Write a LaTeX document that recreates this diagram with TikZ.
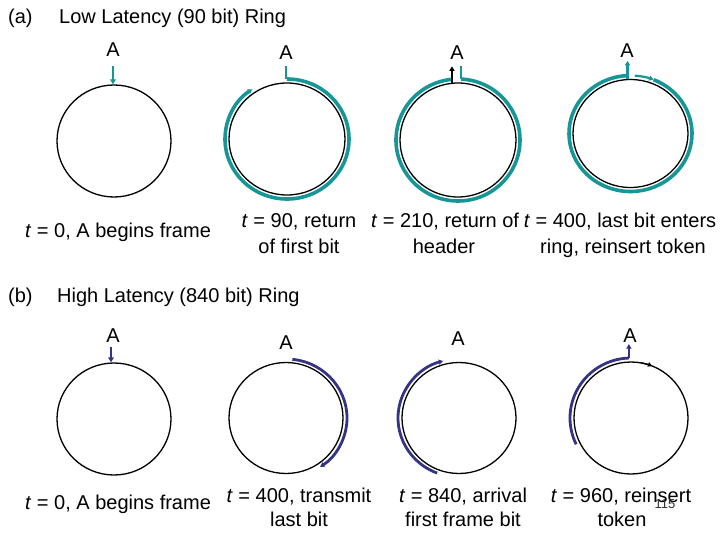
\documentclass[tikz,border=0pt]{standalone}
\usepackage{fontspec}
\setmainfont{Liberation Sans}
\usetikzlibrary{arrows.meta,shapes.geometric}
\definecolor{ringteal}{RGB}{22,150,150}
\definecolor{ringnavy}{RGB}{52,52,132}
\tikzset{
  ring/.style={ellipse,draw=black,line width=1.3pt,inner sep=0pt},
  lbl/.style={anchor=base,inner sep=0pt,font=\fontsize{20}{24}\selectfont},
  hdr/.style={anchor=base west,inner sep=0pt,font=\fontsize{20}{24}\selectfont},
  tealarc/.style={draw=ringteal,line width=3.6pt},
  tealthin/.style={draw=ringteal,line width=2.2pt},
  navyarc/.style={draw=ringnavy,line width=2.8pt},
  tip/.style={-{Triangle[length=5pt,width=5.5pt]}},
  smalltip/.style={-{Triangle[length=4.5pt,width=5pt]}}
}
\begin{document}
\begin{tikzpicture}[x=1pt,y=1pt]
\useasboundingbox (0,0) rectangle (720,-540);

% headers
\node[hdr] (ha) at (8,-24) {(a)};
\node[hdr] (hat) at (59,-24) {Low Latency (90 bit) Ring};
\node[hdr] (hb) at (8,-302) {(b)};
\node[hdr] (hbt) at (57,-302) {High Latency (840 bit) Ring};

% rings
\node[ring,minimum width=114pt,minimum height=112pt] (r1) at (114,-141) {};
\node[ring,minimum width=116pt,minimum height=112pt] (r2) at (287,-139) {};
\node[ring,minimum width=116pt,minimum height=114pt] (r3) at (458,-140) {};
\node[ring,minimum width=115pt,minimum height=108pt] (r4) at (630.5,-133.5) {};
\node[ring,minimum width=114pt,minimum height=112pt] (r5) at (114,-419) {};
\node[ring,minimum width=114pt,minimum height=111pt] (r6) at (286,-418) {};
\node[ring,minimum width=114pt,minimum height=111pt] (r7) at (459,-418) {};
\node[ring,minimum width=114pt,minimum height=112pt] (r8) at (631,-418) {};

% A labels
\node[lbl] (a1) at (113,-57) {A};
\node[lbl] (a2) at (286,-60) {A};
\node[lbl] (a3) at (457,-60) {A};
\node[lbl] (a4) at (627,-58) {A};
\node[lbl] (a5) at (113,-342) {A};
\node[lbl] (a6) at (286,-349) {A};
\node[lbl] (a7) at (458,-345) {A};
\node[lbl] (a8) at (630,-342) {A};

% ring 1
\draw[tealthin,tip] ([shift={(-1,18)}]r1.north) -- ([xshift=-1pt]r1.north);

% ring 2
\coordinate (s2) at ([shift={(90:62 and 60)}]r2.center);
\draw[tealthin] ([shift={(-1,13)}]s2) -- ([xshift=-1pt]s2);
\draw[tealarc,smalltip] (s2) arc[start angle=90,end angle=-236,x radius=62,y radius=60];

% ring 3
\coordinate (s3) at ([shift={(87:62 and 61)}]r3.center);
\draw[tealthin] ([yshift=13pt]s3) -- (s3);
\draw[tealarc] (s3) arc[start angle=87,end angle=-264,x radius=62,y radius=61];
\draw[line width=1.3pt,smalltip] ([shift={(96:58 and 57)}]r3.center) -- ++(0,17);

% ring 4
\coordinate (s4) at ([shift={(86:61.5 and 58)}]r4.center);
\coordinate (e4) at ([shift={(68:61.5 and 58)}]r4.center);
\draw[tealthin,smalltip] ([shift={(-3,0)}]r4.north) -- ++(0,18);
\draw[tealthin,smalltip] (s4) arc[start angle=86,end angle=68,x radius=61.5,y radius=58];
\draw[tealarc] (e4) arc[start angle=68,end angle=-268,x radius=61.5,y radius=58];

% ring 5
\draw[navyarc,line width=2pt,tip] ([shift={(-3,15)}]r5.north) -- ([xshift=-3pt]r5.north);

% ring 6
\coordinate (s6) at ([shift={(84:61 and 59)}]r6.center);
\draw[navyarc,smalltip] (s6) arc[start angle=84,end angle=-56,x radius=61,y radius=59];

% ring 7
\coordinate (s7) at ([shift={(-111:61 and 59)}]r7.center);
\draw[navyarc,smalltip] (s7) arc[start angle=-111,end angle=-255,x radius=61,y radius=59];

% ring 8
\coordinate (s8) at ([shift={(206:61 and 60)}]r8.center);
\draw[navyarc] (s8) arc[start angle=206,end angle=92,x radius=61,y radius=60] coordinate (t8);
\draw[navyarc,line width=2pt,smalltip] (t8) -- ++(0,14);
\coordinate (k8) at ([shift={(80:57 and 56)}]r8.center);
\draw[line width=1.3pt,-{Triangle[length=4.5pt,width=4.5pt]}] (k8) arc[start angle=80,end angle=68,x radius=57,y radius=56];

% row 1 labels
\node[lbl] (l1) at (118,-237) {\textit{t} = 0, A begins frame};
\node[lbl] (l2a) at (299,-228) {\textit{t} = 90, return};
\node[lbl] (l2b) at (299,-253) {of first bit};
\node[lbl] (l3a) at (445,-228) {\textit{t} = 210, return of};
\node[lbl] (l3b) at (444,-253) {header};
\node[lbl] (l4a) at (620,-228) {\textit{t} = 400, last bit enters};
\node[lbl] (l4b) at (623,-253) {ring, reinsert token};

% row 2 labels
\node[lbl] (m1) at (118,-509) {\textit{t} = 0, A begins frame};
\node[lbl] (m2a) at (299,-502) {\textit{t} = 400, transmit};
\node[lbl] (m2b) at (299,-526) {last bit};
\node[lbl] (m3a) at (463,-502) {\textit{t} = 840, arrival};
\node[lbl] (m3b) at (463,-526) {first frame bit};
\node[lbl] (m4a) at (621,-502) {\textit{t} = 960, reinsert};
\node[lbl] (m4b) at (622,-526) {token};

\node[anchor=base,inner sep=0pt,font=\fontsize{13}{15}\selectfont,text=black!80] (pg) at (665,-508) {115};
\end{tikzpicture}
\end{document}
